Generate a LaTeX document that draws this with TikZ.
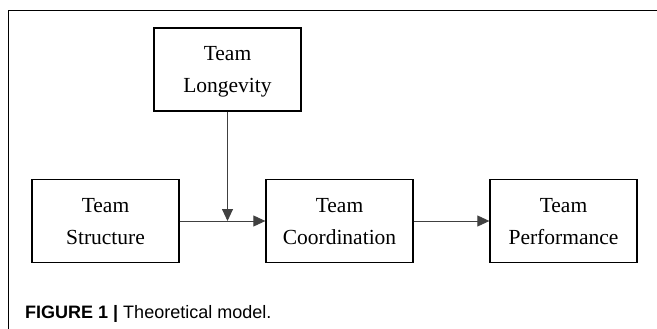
\documentclass[tikz,border=0pt]{standalone}
\usepackage{fontspec}
\setmainfont{Liberation Serif}
\newfontfamily\capfont{Liberation Sans}
\usetikzlibrary{arrows.meta}

\begin{document}
\begin{tikzpicture}[x=1pt,y=1pt,
    factor/.style={rectangle, draw, line width=1.3pt, minimum width=147pt, minimum height=83pt,
      align=center, text depth=-4pt, font=\fontsize{21.5}{32}\selectfont},
    link/.style={draw=black!75, line width=0.9pt, -{Triangle[length=12pt,width=11pt]}}]
          % Variables
          \def \boxw  {147}
          \def \rowy  {-221}

          \useasboundingbox (0,0) rectangle (657,-329);

          % Frame
          \draw [line width=1pt] (657,-10.5) -- (8,-10.5) -- (8,-329);

          % Boxes
          \node[factor] (longevity) at (227.5,-69.5) {Team\\Longevity};
          \node[factor] (structure) at (105.5,\rowy) {Team\\Structure};
          \node[factor] (coordination) at (339.5,\rowy) {Team\\Coordination};
          \node[factor] (performance) at (563.5,\rowy) {Team\\Performance};

          % Arrows
          \coordinate (meet) at (longevity.south |- structure.east);
          \draw[link] (structure) -- (coordination);
          \draw[link] (longevity) -- (meet);
          \draw[link] (coordination) -- (performance);

          % Caption
          \node[anchor=base west, inner sep=0pt, font=\capfont\fontsize{18}{20}\selectfont] (caption) at (25,-318)
            {\textbf{FIGURE 1 |} Theoretical model.};

        \end{tikzpicture}
\end{document}
